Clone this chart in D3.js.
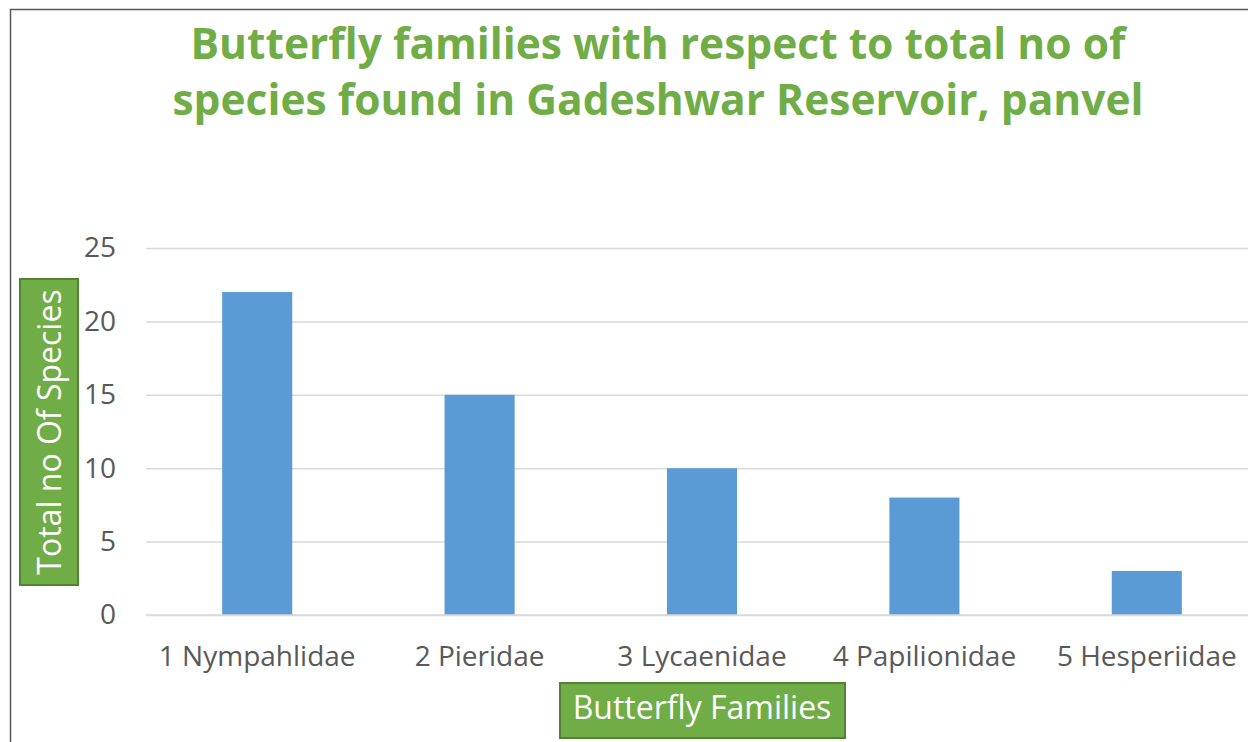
<!DOCTYPE html>
<html>
<head>
<title>Butterfly families</title>
<style type="text/css">
	body { margin: 0; background: #fff; }
	#chart { width: 1248px; height: 742px; display: block; }
	.calText { font-family: 'Open Sans', Arial; }
	.title { font-size: 42.5px; font-weight: bold; fill: #70ad47; text-anchor: middle; }
	.tick text { font-size: 28px; fill: #595959; font-family: 'Open Sans', Arial; }
	.axisTitle { font-size: 32px; fill: #fff; text-anchor: middle; }
</style>
</head>
<body>
<svg id="chart"></svg>
<script src="https://cdn.jsdelivr.net/npm/d3@7"></script>
<script>

var families = ['1 Nympahlidae', '2 Pieridae', '3 Lycaenidae', '4 Papilionidae', '5 Hesperiidae'];
var species = [22, 15, 10, 8, 3];
var yTicks = [0, 5, 10, 15, 20, 25];
var titleLines = ['Butterfly families with respect to total no of', 'species found in Gadeshwar Reservoir, panvel'];

var svg = d3.select('#chart');

// chart area border (runs off the right and bottom of the picture)
svg.append('rect')
	.attr('x', 10.5).attr('y', 9.5)
	.attr('width', 1300).attr('height', 800)
	.attr('fill', 'none').attr('stroke', '#595959').attr('stroke-width', 1.5);

var plotLeft = 146, plotRight = 1258, plotTop = 248, plotBottom = 615;

var x = d3.scaleBand()
	.domain(families)
	.range([plotLeft, plotRight])
	.paddingInner(0.685)
	.paddingOuter(0.3425);

var y = d3.scaleLinear()
	.domain([0, 25])
	.range([plotBottom, plotTop]);

// gridlines + y labels
var yAxis = svg.append('g')
	.attr('transform', 'translate(' + plotLeft + ',0)')
	.call(d3.axisLeft(y).tickValues(yTicks).tickSize(-(plotRight - plotLeft)).tickPadding(30));
yAxis.select('.domain').remove();
yAxis.selectAll('.tick line').attr('stroke', '#d9d9d9').attr('stroke-width', 1.5);

svg.selectAll('.bar')
	.data(species)
	.enter()
	.append('rect')
	.classed('bar', true)
	.attr('x', function(d, i) { return x(families[i]); })
	.attr('y', function(d) { return y(d); })
	.attr('width', x.bandwidth())
	.attr('height', function(d) { return plotBottom - y(d); })
	.attr('fill', '#5b9bd5');

// x labels
var xAxis = svg.append('g')
	.attr('transform', 'translate(0,' + plotBottom + ')')
	.call(d3.axisBottom(x).tickSize(0).tickPadding(31));
xAxis.select('.domain').remove();
// baseline
svg.append('line')
	.attr('x1', plotLeft).attr('x2', plotRight)
	.attr('y1', plotBottom).attr('y2', plotBottom)
	.attr('stroke', '#d9d9d9').attr('stroke-width', 1.5);

// title
svg.selectAll('.title')
	.data(titleLines)
	.enter()
	.append('text')
	.classed('calText', true)
	.classed('title', true)
	.attr('x', 658)
	.attr('y', function(d, i) { return 59 + i * 56; })
	.text(function(d) { return d; });

// y axis title box
svg.append('rect')
	.attr('x', 20).attr('y', 279).attr('width', 58).attr('height', 306)
	.attr('fill', '#70ad47').attr('stroke', '#548235').attr('stroke-width', 2);
svg.append('text')
	.classed('calText', true).classed('axisTitle', true)
	.attr('transform', 'translate(61,432) rotate(-90)')
	.text('Total no Of Species');

// x axis title box
svg.append('rect')
	.attr('x', 560).attr('y', 683).attr('width', 285).attr('height', 55)
	.attr('fill', '#70ad47').attr('stroke', '#548235').attr('stroke-width', 2);
svg.append('text')
	.classed('calText', true).classed('axisTitle', true)
	.attr('x', 702).attr('y', 719)
	.text('Butterfly Families');

</script>
</body>
</html>
